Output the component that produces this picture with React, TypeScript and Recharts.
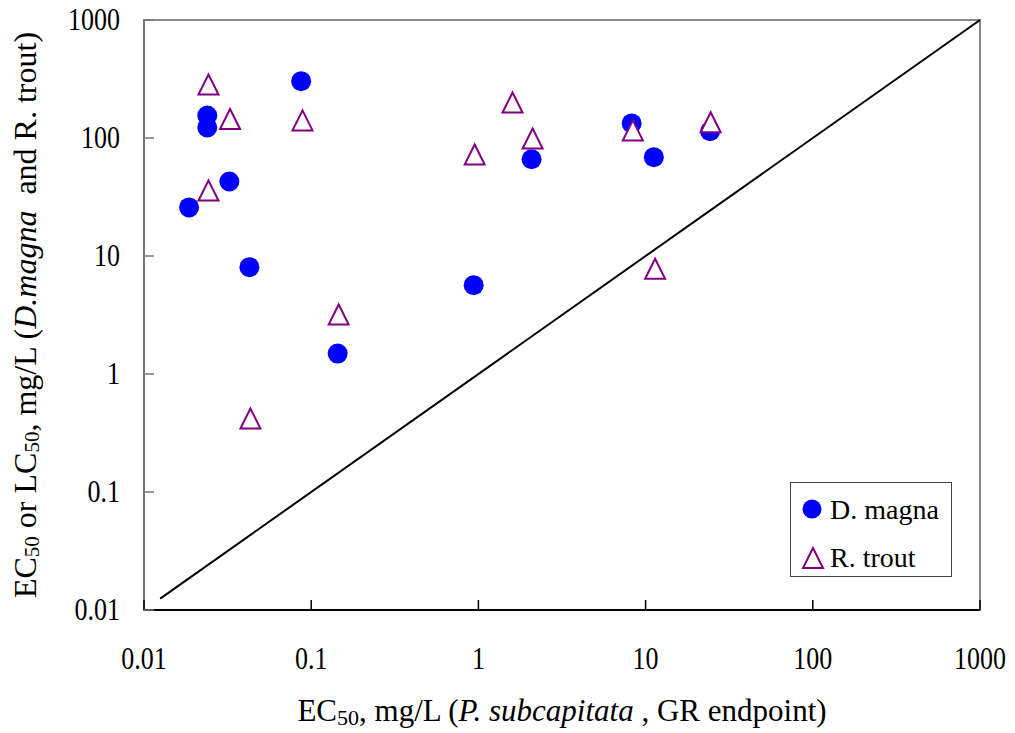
import React from "react";
import {
  ScatterChart,
  Scatter,
  XAxis,
  YAxis,
  ReferenceLine,
  ReferenceArea,
  Legend,
} from "recharts";

// decade ticks on both log axes
const decadeTicks = [0.01, 0.1, 1, 10, 100, 1000];
const tickLabels = ["0.01", "0.1", "1", "10", "100", "1000"];

const seriesNames = ["D. magna", "R. trout"];

// D. magna EC50 vs P. subcapitata EC50
const magnaX = [0.0186, 0.0239, 0.0239, 0.0324, 0.0871, 0.0427, 0.144, 0.937, 2.08, 8.25, 11.2, 24.3];
const magnaY = [25.8, 155, 123, 42.8, 303, 8.04, 1.49, 5.66, 66.1, 133, 68.8, 114];

// Rainbow trout LC50 vs P. subcapitata EC50
const troutX = [0.0243, 0.0327, 0.0887, 0.0243, 0.95, 1.6, 2.11, 8.39, 24.5, 11.4, 0.146, 0.0433];
const troutY = [284, 145, 141, 35.9, 72.5, 200, 99, 116, 136, 7.79, 3.19, 0.42];

// 1:1 line
const diagonalEnds = [0.0125, 1000];

const FONT = "'Liberation Serif', 'Times New Roman', serif";

const magnaData = magnaX.map((x, i) => ({ x, y: magnaY[i] }));
const troutData = troutX.map((x, i) => ({ x, y: troutY[i] }));

const labelFor = (v: number) => tickLabels[decadeTicks.indexOf(v)] ?? String(v);

const XTick = (props: any) => {
  const { x, y, payload } = props;
  return (
    <g>
      <line x1={x} y1={y} x2={x} y2={y - 10} stroke="#000" strokeWidth={1.5} />
      <text
        transform={`translate(${x} ${y + 59}) scale(1 1.18)`}
        textAnchor="middle"
        fontSize={26}
        fontFamily={FONT}
        fill="#000"
      >
        {labelFor(payload.value)}
      </text>
    </g>
  );
};

const YTick = (props: any) => {
  const { x, y, payload } = props;
  return (
    <g>
      <line x1={x} y1={y} x2={x + 10} y2={y} stroke="#777" strokeWidth={1.5} />
      <text
        transform={`translate(${x - 24} ${y + 10}) scale(1 1.18)`}
        textAnchor="end"
        fontSize={26}
        fontFamily={FONT}
        fill="#000"
      >
        {labelFor(payload.value)}
      </text>
    </g>
  );
};

const XTitle = (props: any) => {
  const vb = props.viewBox || {};
  const cx = vb.x + vb.width / 2;
  return (
    <text x={cx} y={vb.y + 111} textAnchor="middle" fontSize={31} fontFamily={FONT} fill="#000" style={{ whiteSpace: "pre" }}>
      EC
      <tspan fontSize={22} dy={4}>50</tspan>
      <tspan dy={-4}>, mg/L (</tspan>
      <tspan fontStyle="italic">P. subcapitata</tspan>
      <tspan> , GR endpoint)</tspan>
    </text>
  );
};

const YTitle = (props: any) => {
  const vb = props.viewBox || {};
  const bx = vb.x + 28;
  const cy = vb.y + vb.height / 2;
  return (
    <text
      x={bx}
      y={cy}
      transform={`rotate(-90 ${bx} ${cy})`}
      textAnchor="middle"
      fontSize={32}
      fontFamily={FONT}
      fill="#000"
      style={{ whiteSpace: "pre" }}
    >
      EC
      <tspan fontSize={21} dy={3}>50</tspan>
      <tspan dy={-3}> or LC</tspan>
      <tspan fontSize={21} dy={3}>50</tspan>
      <tspan dy={-3}>, mg/L (</tspan>
      <tspan fontStyle="italic">D.magna</tspan>
      <tspan>  and R. trout)</tspan>
    </text>
  );
};

const Dot = (p: any) => <circle cx={p.cx} cy={p.cy} r={10} fill="#0000FF" />;

const Tri = (p: any) => (
  <path
    d={`M${p.cx},${p.cy - 10} L${p.cx + 10},${p.cy + 10} L${p.cx - 10},${p.cy + 10} Z`}
    fill="#fff"
    stroke="#800080"
    strokeWidth={2}
  />
);

const LegendBox = () => (
  <div
    style={{
      width: 162,
      height: 95,
      boxSizing: "border-box",
      border: "1.5px solid #444",
      background: "#fff",
    }}
  >
    <svg width={159} height={92} style={{ display: "block" }}>
      <circle cx={21} cy={26} r={9.5} fill="#0000FF" />
      <text x={39} y={36} fontSize={28} fontFamily={FONT} fill="#000" style={{ whiteSpace: "pre" }}>
        {seriesNames[0]}
      </text>
      <path d="M22,65 L32,85 L12,85 Z" fill="#fff" stroke="#800080" strokeWidth={2} />
      <text x={39} y={84} fontSize={28} fontFamily={FONT} fill="#000">
        {seriesNames[1]}
      </text>
    </svg>
  </div>
);

export default function App() {
  return (
    <div style={{ marginTop: -8 }}>
      <ScatterChart
        width={1000}
        height={733}
        margin={{ top: 20, right: 28, left: 0, bottom: 13 }}
        style={{ background: "#fff" }}
      >
        <ReferenceArea
          x1={0.01}
          x2={1000}
          y1={0.01}
          y2={1000}
          fill="none"
          stroke="#888"
          strokeWidth={2}
          ifOverflow="visible"
        />
        <XAxis
          dataKey="x"
          type="number"
          scale="log"
          domain={[0.01, 1000]}
          ticks={decadeTicks}
          allowDataOverflow
          height={110}
          tickSize={0}
          tickMargin={0}
          tickLine={false}
          tick={<XTick />}
          axisLine={{ stroke: "#000", strokeWidth: 2 }}
          label={<XTitle />}
        />
        <YAxis
          dataKey="y"
          type="number"
          scale="log"
          domain={[0.01, 1000]}
          ticks={decadeTicks}
          allowDataOverflow
          width={136}
          tickSize={0}
          tickMargin={0}
          tickLine={false}
          tick={<YTick />}
          axisLine={{ stroke: "#777", strokeWidth: 2 }}
          label={<YTitle />}
        />
        <ReferenceLine
          segment={[
            { x: diagonalEnds[0], y: diagonalEnds[0] },
            { x: diagonalEnds[1], y: diagonalEnds[1] },
          ]}
          stroke="#000"
          strokeWidth={2}
        />
        <Scatter name={seriesNames[0]} data={magnaData} shape={<Dot />} isAnimationActive={false} />
        <Scatter name={seriesNames[1]} data={troutData} shape={<Tri />} isAnimationActive={false} />
        <Legend
          layout="vertical"
          align="center"
          verticalAlign="middle"
          wrapperStyle={{ position: "absolute", left: 782, top: 482, width: 162, height: 95 }}
          content={() => <LegendBox />}
        />
      </ScatterChart>
    </div>
  );
}
